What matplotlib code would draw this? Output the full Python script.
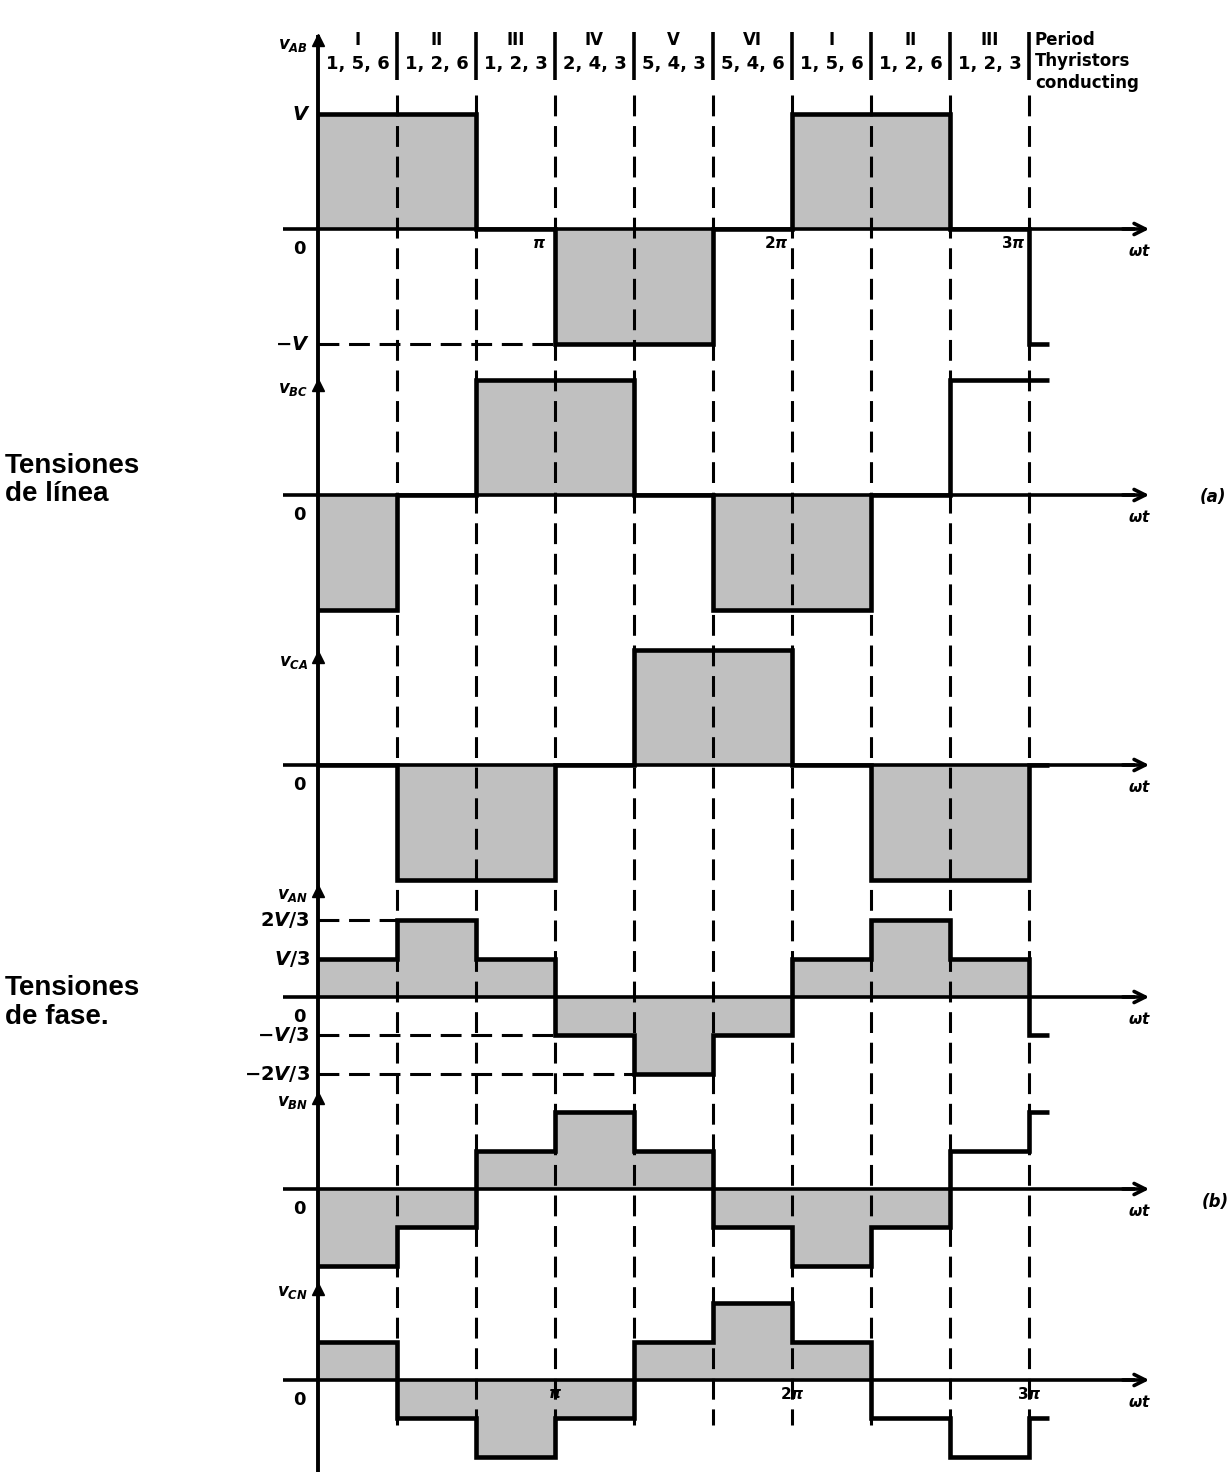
import matplotlib
matplotlib.use("Agg")
import matplotlib.pyplot as plt

plt.rcParams['mathtext.fontset'] = 'custom'
plt.rcParams['mathtext.rm'] = 'DejaVu Sans:bold'
plt.rcParams['mathtext.it'] = 'DejaVu Sans:italic:bold'
plt.rcParams['mathtext.bf'] = 'DejaVu Sans:bold'
plt.rcParams['lines.scale_dashes'] = False

# ---------------- data ----------------
sector_deg = 60
periods = ['I', 'II', 'III', 'IV', 'V', 'VI', 'I', 'II', 'III']
thyristors = ['1, 5, 6', '1, 2, 6', '1, 2, 3', '2, 4, 3', '5, 4, 3',
              '5, 4, 6', '1, 5, 6', '1, 2, 6', '1, 2, 3']

series_names = ['$v_{AB}$', '$v_{BC}$', '$v_{CA}$', '$v_{AN}$', '$v_{BN}$', '$v_{CN}$']
# values per 60-degree sector (units of V); last entry = short continuation after 3*pi
v_ab = [1, 1, 0, -1, -1, 0, 1, 1, 0, -1]
v_bc = [-1, 0, 1, 1, 0, -1, -1, 0, 1, 1]
v_ca = [0, -1, -1, 0, 1, 1, 0, -1, -1, 0]
v_an = [1/3, 2/3, 1/3, -1/3, -2/3, -1/3, 1/3, 2/3, 1/3, -1/3]
v_bn = [-2/3, -1/3, 1/3, 2/3, 1/3, -1/3, -2/3, -1/3, 1/3, 2/3]
v_cn = [1/3, -1/3, -2/3, -1/3, 1/3, 2/3, 1/3, -1/3, -2/3, -1/3]
series = [v_ab, v_bc, v_ca, v_an, v_bn, v_cn]
filled_sectors = [9, 8, 9, 9, 8, 7]

line_levels = [1, -1]
line_level_labels = ['$V$', '$-V$']
phase_levels = [2/3, 1/3, -1/3, -2/3]
phase_level_labels = ['$2V/3$', '$V/3$', '$-V/3$', '$-2V/3$']

pi_ticks = [180, 360, 540]
pi_labels = [r'$\pi$', r'$2\pi$', r'$3\pi$']

# ---------------- layout (pixel-based) ----------------
W, H = 1232, 1472
X0 = 318.0                # pixel x of omega*t = 0
PXD = 79.0 / 60.0         # pixels per degree
PXV = 115.0               # pixels per V
zero_px = [229, 495, 765, 997, 1189, 1380]
name_px = [45, 389, 662, 895, 1102, 1292]
arrow_px = [40, 385, 657, 891, 1098, 1289]
stub_deg = 15


def dx(px):
    return (px - X0) / PXD


def dy(px):
    return -px / PXV


fig = plt.figure(figsize=(W / 100, H / 100), dpi=100)
ax = fig.add_axes([0, 0, 1, 1])
ax.set_xlim(dx(0), dx(W))
ax.set_ylim(dy(H), dy(0))
ax.axis('off')

n = len(periods)
edges = [k * sector_deg for k in range(n + 1)] + [n * sector_deg + stub_deg]

# vertical axis
ax.plot([0, 0], [dy(35), dy(H)], color='k', lw=2.8, zorder=5, solid_capstyle='butt')

# dashed sector boundaries
for k in range(1, n + 1):
    ax.plot([k * sector_deg] * 2, [dy(95), dy(1425)], color='k', lw=2.2,
            dashes=(15, 7), zorder=2)
    ax.plot([k * sector_deg] * 2, [dy(32), dy(80)], color='k', lw=2.6, zorder=2,
            solid_capstyle='butt')

# header
for k in range(n):
    xc = (k + 0.5) * sector_deg
    ax.text(xc, dy(40), periods[k], ha='center', va='center', fontsize=12,
            fontweight='bold', family='DejaVu Sans')
    ax.text(xc, dy(64), thyristors[k], ha='center', va='center', fontsize=13,
            fontweight='bold', family='DejaVu Sans')
for txt, ypx in zip(['Period', 'Thyristors', 'conducting'], [40, 61, 83]):
    ax.text(dx(1035), dy(ypx), txt, ha='left', va='center', fontsize=12,
            fontweight='bold', family='DejaVu Sans')

for i, (vals, base_px) in enumerate(zip(series, zero_px)):
    base = dy(base_px)
    yv = [base + v for v in vals]
    nf = filled_sectors[i]
    ax.stairs(yv[:nf], edges[:nf + 1], baseline=base, fill=True,
              color='#c0c0c0', lw=0, zorder=1)
    ax.stairs(yv, edges, baseline=None, color='k', lw=3.3, zorder=4)
    # horizontal axis with arrow
    ax.plot([dx(283), dx(1135)], [base, base], color='k', lw=2.6, zorder=3,
            solid_capstyle='butt')
    ax.annotate('', xy=(dx(1152), base), xytext=(dx(1120), base),
                arrowprops=dict(arrowstyle='->', lw=2.6, mutation_scale=20,
                                color='k'), zorder=3)
    ax.text(dx(1140), dy(base_px + 22), r'$\omega t$', ha='center', va='center',
            fontsize=11)
    # name and vertical arrow head
    ax.text(dx(308), dy(name_px[i]), series_names[i], ha='right', va='center',
            fontsize=12)
    ax.plot(0, dy(arrow_px[i]), marker='^', ms=9, color='k', zorder=5)
    ax.text(dx(306), dy(base_px + 20), '0', ha='right', va='center',
            fontsize=13, fontweight='bold')
    # level labels and reference dashes
    if i == 0:
        levels, labels = line_levels, line_level_labels
    elif i == 3:
        levels, labels = phase_levels, phase_level_labels
    else:
        levels, labels = [], []
    for lv, lb in zip(levels, labels):
        ax.text(dx(310), base + lv, lb, ha='right', va='center', fontsize=14)
        first = next(k for k, v in enumerate(vals) if abs(v - lv) < 1e-9)
        if first > 0:
            ax.plot([0, first * sector_deg], [base + lv] * 2, color='k', lw=2.2,
                    dashes=(15, 7), zorder=2)

# pi tick labels
for tk, tl in zip(pi_ticks, pi_labels):
    ax.text(tk - 12, dy(zero_px[0] + 14), tl, ha='center', va='center', fontsize=11)
    ax.text(tk, dy(zero_px[5] + 14), tl, ha='center', va='center', fontsize=11)

ax.text(dx(1213), dy(497), '(a)', ha='center', va='center', fontsize=12,
        fontweight='bold', style='italic')
ax.text(dx(1215), dy(1202), '(b)', ha='center', va='center', fontsize=12,
        fontweight='bold', style='italic')

for txt, ypx in [('Tensiones', 466), ('de línea', 494),
                 ('Tensiones', 988), ('de fase.', 1017)]:
    ax.text(dx(5), dy(ypx), txt, ha='left', va='center', fontsize=20,
            fontweight='bold', family='Liberation Sans')

fig.savefig('out.png', dpi=100)
